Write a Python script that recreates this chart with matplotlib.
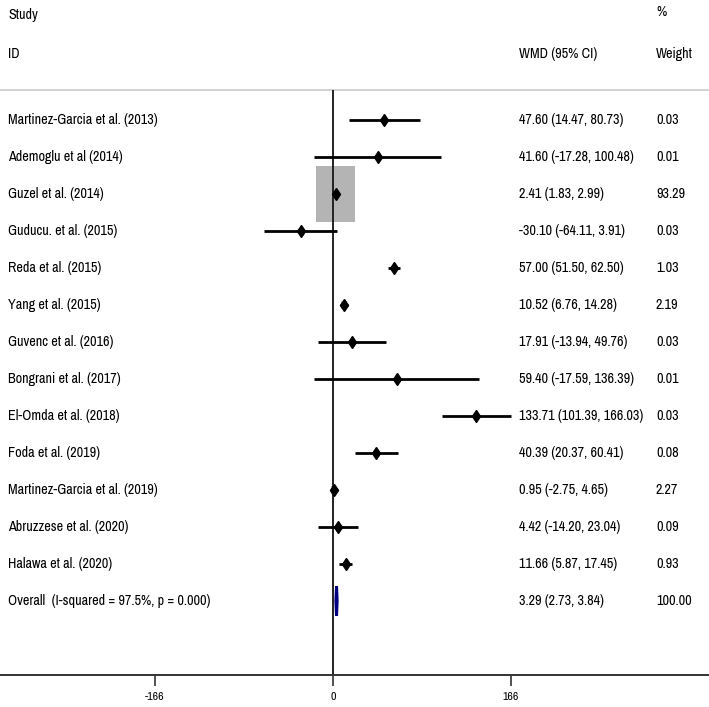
import matplotlib
matplotlib.use('Agg')
import matplotlib.pyplot as plt
from matplotlib.patches import Rectangle, Polygon
import numpy as np

plt.rcParams['font.family'] = ['Archivo Narrow', 'Liberation Sans', 'DejaVu Sans']

# data
studies = ['Martinez-Garcia et al. (2013)', 'Ademoglu et al (2014)', 'Guzel et al. (2014)',
           'Guducu. et al. (2015)', 'Reda et al. (2015)', 'Yang et al. (2015)',
           'Guvenc et al. (2016)', 'Bongrani et al. (2017)', 'El-Omda et al. (2018)',
           'Foda et al. (2019)', 'Martinez-Garcia et al. (2019)', 'Abruzzese et al. (2020)',
           'Halawa et al. (2020)']
wmd = [47.60, 41.60, 2.41, -30.10, 57.00, 10.52, 17.91, 59.40, 133.71, 40.39, 0.95, 4.42, 11.66]
ci_lo = [14.47, -17.28, 1.83, -64.11, 51.50, 6.76, -13.94, -17.59, 101.39, 20.37, -2.75, -14.20, 5.87]
ci_hi = [80.73, 100.48, 2.99, 3.91, 62.50, 14.28, 49.76, 136.39, 166.03, 60.41, 4.65, 23.04, 17.45]
weight = [0.03, 0.01, 93.29, 0.03, 1.03, 2.19, 0.03, 0.01, 0.03, 0.08, 2.27, 0.09, 0.93]

overall_label = 'Overall  (I-squared = 97.5%, p = 0.000)'
overall_est, overall_lo, overall_hi, overall_w = 3.29, 2.73, 3.84, 100.00

xticks_vals = [-166, 0, 166]

# layout (pixels of a 709x707 picture)
W, H = 709, 707
px_per_unit = 178 / 166.0
zero_px = 333
row0_px, row_step = 120, 37
axis_px = 675

fig = plt.figure(figsize=(W / 100, H / 100), dpi=100, facecolor='w')
ax = fig.add_axes([0, (H - axis_px) / H, 1, axis_px / H])
ax.set_xlim(-zero_px / px_per_unit, (W - zero_px) / px_per_unit)
axis_row = (axis_px - row0_px) / row_step
ax.set_ylim(axis_row, -row0_px / row_step)

for s in ['top', 'left', 'right']:
    ax.spines[s].set_visible(False)
ax.spines['bottom'].set_color('#333333')
ax.spines['bottom'].set_linewidth(1.4)
ax.set_yticks([])
ax.set_xticks(xticks_vals)
ax.set_xticklabels([str(v) for v in xticks_vals], fontsize=8.5)
ax.tick_params(axis='x', length=8, width=1.2, color='#333333', pad=4)

header_row = (90 - row0_px) / row_step
ax.axhline(header_row, color='#cccccc', lw=1.2)
ax.vlines(0, header_row, axis_row, color='#222222', lw=1.4)

fs = 10.2
tr = ax.get_yaxis_transform()
ax.text(8 / W, (15 - row0_px) / row_step, 'Study', fontsize=fs, va='center', transform=tr)
ax.text(8 / W, (54 - row0_px) / row_step, 'ID', fontsize=fs, va='center', transform=tr)
ax.text(519 / W, (54 - row0_px) / row_step, 'WMD (95% CI)', fontsize=fs, va='center', transform=tr)
ax.text(656 / W, (12 - row0_px) / row_step, '%', fontsize=fs, va='center', transform=tr)
ax.text(656 / W, (54 - row0_px) / row_step, 'Weight', fontsize=fs, va='center', transform=tr)

maxw = max(weight)
for i in range(len(studies)):
    # weight box
    side = np.sqrt(weight[i] / maxw)
    bw = 39 * side / px_per_unit
    bh = 56 * side / row_step
    ax.add_patch(Rectangle((wmd[i] - bw / 2, i - bh / 2), bw, bh,
                           facecolor='#b4b4b4', edgecolor='none', zorder=1))
    ax.plot([ci_lo[i], ci_hi[i]], [i, i], color='black', lw=2, zorder=2, solid_capstyle='butt')
    ax.plot(wmd[i], i, marker='d', color='black', markersize=6.5, zorder=3)
    ax.text(8 / W, i, studies[i], fontsize=fs, va='center', transform=tr)
    ax.text(519 / W, i, '%.2f (%.2f, %.2f)' % (wmd[i], ci_lo[i], ci_hi[i]),
            fontsize=fs, va='center', transform=tr)
    ax.text(656 / W, i, '%.2f' % weight[i], fontsize=fs, va='center', transform=tr)

# overall diamond
r = len(studies)
dh = 14.5 / row_step
ax.add_patch(Polygon([(overall_lo, r), (overall_est, r - dh), (overall_hi, r), (overall_est, r + dh)],
                     closed=True, facecolor='none', edgecolor='#000080', lw=2.2, zorder=3))
ax.text(8 / W, r, overall_label, fontsize=fs, va='center', transform=tr)
ax.text(519 / W, r, '%.2f (%.2f, %.2f)' % (overall_est, overall_lo, overall_hi),
        fontsize=fs, va='center', transform=tr)
ax.text(656 / W, r, '%.2f' % overall_w, fontsize=fs, va='center', transform=tr)

fig.savefig('out.png', dpi=100, facecolor='w')
